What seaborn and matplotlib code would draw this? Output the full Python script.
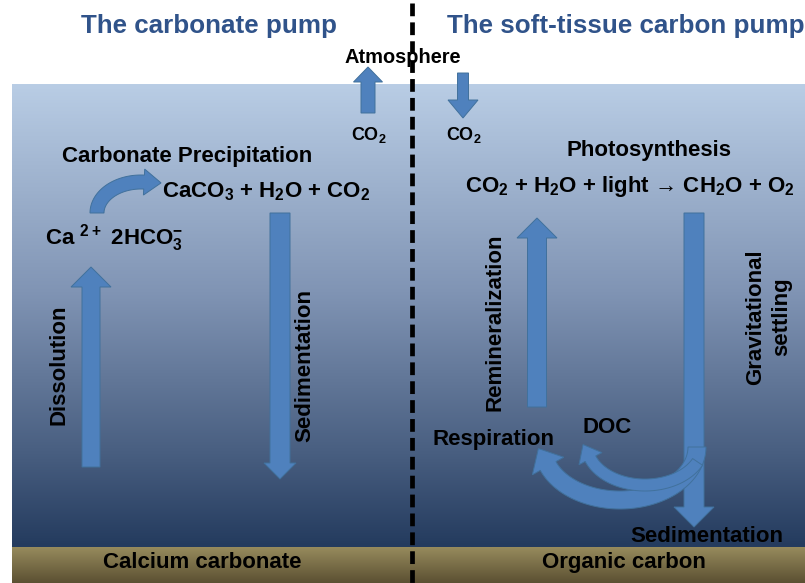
import numpy as np
import matplotlib.pyplot as plt
import seaborn as sns
from matplotlib.colors import LinearSegmentedColormap
from matplotlib.patches import FancyArrow, Polygon

# ----------------------------------
# Labels of the diagram
# ----------------------------------
titles = ["The carbonate pump", "The soft-tissue carbon pump"]
layer_labels = ["Calcium carbonate", "Organic carbon"]
gas_labels = ["Atmosphere", "CO$_2$"]
process_labels = ["Carbonate Precipitation", "Photosynthesis", "Respiration", "DOC", "Sedimentation"]
vertical_labels = ["Dissolution", "Sedimentation", "Remineralization", "Gravitational\nsettling"]
reactions = ["CaCO$_3$ + H$_2$O + CO$_2$",
             "Ca $^{2+}$ 2HCO$_3^{-}$",
             "CO$_2$ + H$_2$O + light \u2192 CH$_2$O + O$_2$"]

sns.set_theme(style="white")
plt.rcParams['font.family'] = ['Liberation Sans', 'DejaVu Sans']
plt.rcParams['font.weight'] = 'bold'
plt.rcParams['mathtext.default'] = 'regular'

arrow_fc = "#4f81bd"
arrow_ec = "#41719c"
title_color = "#30538a"

fig = plt.figure(figsize=(8.05, 5.83), dpi=100)
ax = fig.add_axes([0, 0, 1, 1])

# ocean and sediment gradients
ocean = LinearSegmentedColormap.from_list(
    "ocean", [(0, "#b9cde5"), (0.45, "#8094b4"), (0.8, "#485e80"), (1, "#243b5e")])
sediment = sns.blend_palette(["#978b5d", "#5b5032"], as_cmap=True)
grad = np.linspace(0, 1, 256).reshape(-1, 1)
ax.imshow(grad, cmap=ocean, extent=[12, 805, 547, 84], aspect='auto', zorder=0)
ax.imshow(grad, cmap=sediment, extent=[12, 805, 583, 547], aspect='auto', zorder=0)

ax.set_xlim(0, 805)
ax.set_ylim(583, 0)
ax.axis('off')

# dividing line
ax.plot([412, 412], [3, 583], color='black', lw=3.4, dashes=(2.7, 1.3), zorder=5)


def block_arrow(x, y0, y1, w, hw, hl):
    ax.add_patch(FancyArrow(x, y0, 0, y1 - y0, width=w, head_width=hw, head_length=hl,
                            length_includes_head=True, fc=arrow_fc, ec=arrow_ec, lw=0.7, zorder=3))


def arc_arrow(cx, cy, rx, ry, t0, t1, w, hw, hl):
    # thick arrow following an elliptical arc (y axis points down)
    t = np.radians(np.linspace(t0, t1, 80))
    px, py = cx + rx * np.cos(t), cy + ry * np.sin(t)
    dx, dy = -rx * np.sin(t), ry * np.cos(t)
    if t1 < t0:
        dx, dy = -dx, -dy
    n = np.hypot(dx, dy)
    ux, uy = dx / n, dy / n
    nx, ny = -uy, ux
    side1 = np.column_stack([px + nx * w / 2, py + ny * w / 2])
    side2 = np.column_stack([px - nx * w / 2, py - ny * w / 2])
    ex, ey = px[-1], py[-1]
    head = np.array([[ex + nx[-1] * hw / 2, ey + ny[-1] * hw / 2],
                     [ex + ux[-1] * hl, ey + uy[-1] * hl],
                     [ex - nx[-1] * hw / 2, ey - ny[-1] * hw / 2]])
    verts = np.vstack([side1, head, side2[::-1]])
    ax.add_patch(Polygon(verts, closed=True, fc=arrow_fc, ec=arrow_ec, lw=0.7, zorder=3))


# air-sea exchange
block_arrow(368, 113, 67, 14, 29, 15)
block_arrow(463, 73, 118, 11, 30, 18)

# carbonate pump
block_arrow(91, 467, 267, 18, 40, 20)
block_arrow(280, 213, 479, 20, 32, 16)
arc_arrow(141, 213, 44, 31, 180, 274, 14, 26, 17)

# soft-tissue pump
block_arrow(537, 407, 218, 19, 40, 20)
block_arrow(694, 213, 527, 20, 40, 20)
arc_arrow(620, 447, 77, 53, 0, 159, 18, 36, 20)
arc_arrow(645, 445, 58, 40, 25, 160, 12, 26, 16)

# text
for x, t, ha in [(209, titles[0], 'center'), (447, titles[1], 'left')]:
    ax.text(x, 33, t, ha=ha, va='baseline', fontsize=18.7, color=title_color, zorder=6)

ax.text(403, 63, gas_labels[0], ha='center', va='baseline', fontsize=14.4, color='black', zorder=6)
ax.text(369, 140, gas_labels[1], ha='center', va='baseline', fontsize=13, color='black')
ax.text(464, 140, gas_labels[1], ha='center', va='baseline', fontsize=13, color='black')

ax.text(62, 162, process_labels[0], ha='left', va='baseline', fontsize=16, color='black')
ax.text(162, 197, reactions[0], ha='left', va='baseline', fontsize=16, color='black')
ax.text(45, 245, reactions[1], ha='left', va='baseline', fontsize=16, color='black')
ax.text(649, 156, process_labels[1], ha='center', va='baseline', fontsize=16, color='black')
ax.text(465, 192, reactions[2], ha='left', va='baseline', fontsize=16, color='black')
ax.text(432, 445, process_labels[2], ha='left', va='baseline', fontsize=16, color='black')
ax.text(582, 433, process_labels[3], ha='left', va='baseline', fontsize=16, color='black')
ax.text(630, 542, process_labels[4], ha='left', va='baseline', fontsize=16, color='black', zorder=6)

ax.text(59, 365, vertical_labels[0], rotation=90, ha='center', va='center', fontsize=16, color='black')
ax.text(305, 366, vertical_labels[1], rotation=90, ha='center', va='center', fontsize=16, color='black')
ax.text(495, 322, vertical_labels[2], rotation=90, ha='center', va='center', fontsize=16, color='black')
ax.text(769, 317, vertical_labels[3], rotation=90, ha='center', va='center', fontsize=16,
        color='black', linespacing=1.3, multialignment='center')

ax.text(202, 568, layer_labels[0], ha='center', va='baseline', fontsize=16, color='black', zorder=6)
ax.text(624, 568, layer_labels[1], ha='center', va='baseline', fontsize=16, color='black', zorder=6)

fig.savefig("out.png", dpi=100)
